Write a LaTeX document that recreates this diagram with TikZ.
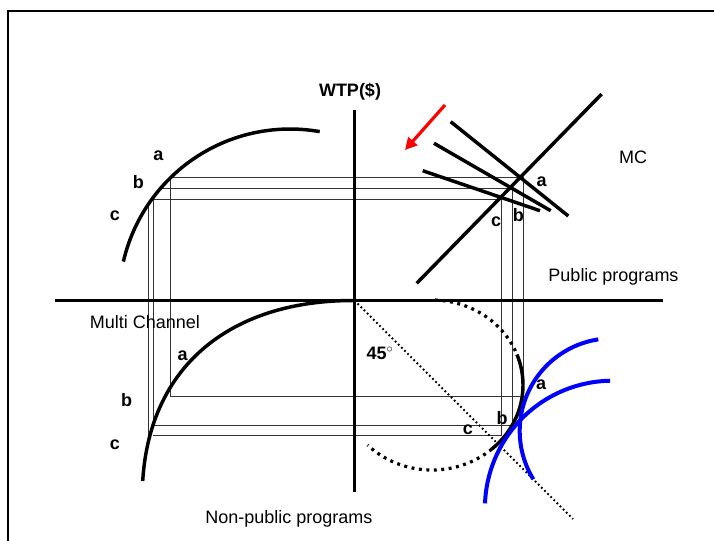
\documentclass[tikz,border=0pt]{standalone}
\usepackage{fontspec}
\setmainfont{Liberation Sans}
\usetikzlibrary{arrows.meta}
\begin{document}
\begin{tikzpicture}[x=0.75pt,y=-0.75pt,
  txt/.style={font=\fontsize{13.5}{16}\selectfont, inner sep=0pt},
  ltr/.style={font=\fontsize{13.5}{16}\selectfont\bfseries, inner sep=0pt},
  frame/.style={line width=1.5pt},
  axis/.style={line width=2.25pt},
  curveline/.style={line width=2.6pt},
  guide/.style={line width=0.6pt, black!80},
  bluecurve/.style={blue, line width=3pt},
  bigdots/.style={line width=2.4pt, dash pattern=on 2.2pt off 3.4pt},
  finedots/.style={line width=1.4pt, dash pattern=on 1.3pt off 2pt},
  redarrow/.style={red, line width=2.4pt, -{Triangle[length=9pt,width=9pt]}}
]
\useasboundingbox (0,0) rectangle (714,540);
\fill[white] (0,0) rectangle (714,540);
% frame
\coordinate (fBL) at (8,545);
\coordinate (fTL) at (8,11);
\coordinate (fTR) at (720,11);
\draw[frame] (fBL) -- (fTL) -- (fTR);

% axes
\coordinate (O) at (354.5,300.5);
\coordinate (vTop) at (354.5,110);
\coordinate (vBot) at (354.5,492);
\coordinate (hL) at (55,300.5);
\coordinate (hR) at (663,300.5);

% guide lines (a, b, c)
\coordinate (ulA) at (170.5,177.7);
\coordinate (ulB) at (159.5,188.7);
\coordinate (ulC) at (152,199.7);
\coordinate (urA) at (523.3,177.7);
\coordinate (urB) at (512.3,188.7);
\coordinate (urC) at (501.3,199.7);
\coordinate (lrA) at (523.3,396.7);
\coordinate (lrB) at (512.3,425);
\coordinate (lrC) at (501.3,435.7);
\coordinate (llA) at (170.5,396.7);
\coordinate (llB) at (153,425);
\coordinate (llC) at (153,435.7);
\coordinate (vBtop) at (153,198);
\coordinate (vBbot) at (153,425);
\coordinate (vCtop) at (148,205);
\coordinate (vCbot) at (148,440);

\draw[guide] (ulA) -- (urA) -- (lrA) -- (llA) -- (ulA);
\draw[guide] (ulB) -- (urB) -- (lrB) -- (llB);
\draw[guide] (ulC) -- (urC) -- (lrC) -- (llC);
\draw[guide] (vBtop) -- (vBbot);
\draw[guide] (vCtop) -- (vCbot);

% axes on top of guides
\draw[axis] (vTop) -- (vBot);
\draw[axis] (hL) -- (hR);

% upper-left curve
\draw[curveline] plot[domain=80:167, samples=60, smooth] ({290+171*cos(\x)},{300-171*sin(\x)});

% lower-left curve
\coordinate (llEnd) at (142.7,481);
\draw[curveline] (O) .. controls (235,300) and (150,362) .. (llEnd);

% upper-right: MC and demand lines
\coordinate (mc1) at (416.7,283.3);
\coordinate (mc2) at (601.7,94);
\coordinate (d1a) at (450.7,121.7);
\coordinate (d1b) at (568.3,216);
\coordinate (d2a) at (434,143.3);
\coordinate (d2b) at (550.7,210.7);
\coordinate (d3a) at (422.7,170.7);
\coordinate (d3b) at (540,210.7);
\draw[curveline] (mc1) -- (mc2);
\draw[curveline] (d1a) -- (d1b);
\draw[curveline] (d2a) -- (d2b);
\draw[curveline] (d3a) -- (d3b);

% red arrow
\coordinate (rs) at (445,105);
\coordinate (re) at (405,150);
\draw[redarrow] (rs) -- (re);

% lower-right: 45 degree line
\coordinate (d45) at (573,519);
\draw[finedots] (O) -- (d45);

% oval curve
\draw[bigdots] plot[domain=88:21, samples=50, smooth] ({432+91*cos(\x)},{385-85*sin(\x)});
\draw[curveline] plot[domain=21:-49, samples=50, smooth] ({432+91*cos(\x)},{385-85*sin(\x)});
\draw[bigdots] plot[domain=-49:-135, samples=60, smooth] ({432+91*cos(\x)},{385-85*sin(\x)});

% blue curves
\draw[bluecurve] plot[domain=98.7:211.5, samples=60, smooth] ({612.3+92.6*cos(\x)},{430.9-92.6*sin(\x)});
\draw[bluecurve] plot[domain=91.1:177.8, samples=60, smooth] ({612.5+127.6*cos(\x)},{508.3-127.6*sin(\x)});

% texts
\node[ltr] (wtp) at (350,92) {WTP(\$)};
\node[txt] (mc) at (633,157) {MC};
\node[txt] (pub) at (613.5,277) {Public programs};
\node[txt] (multi) at (145,322) {Multi Channel};
\node[txt] (nonpub) at (289,519) {Non-public programs};
\node[ltr] (deg) at (380,353) {45$^{\circ}$};

% letters
\node[ltr] (ula) at (158.3,156) {a};
\node[ltr] (ulb) at (138.3,181.7) {b};
\node[ltr] (ulc) at (115,216) {c};
\node[ltr] (ura) at (541.7,181.7) {a};
\node[ltr] (urb) at (518.3,215) {b};
\node[ltr] (urc) at (496,221.7) {c};
\node[ltr] (lla) at (182.7,355.7) {a};
\node[ltr] (llb) at (126.7,400) {b};
\node[ltr] (llc) at (115,445) {c};
\node[ltr] (lra) at (541,385) {a};
\node[ltr] (lrb) at (502,417.7) {b};
\node[ltr] (lrc) at (468,430) {c};
\end{tikzpicture}
\end{document}
